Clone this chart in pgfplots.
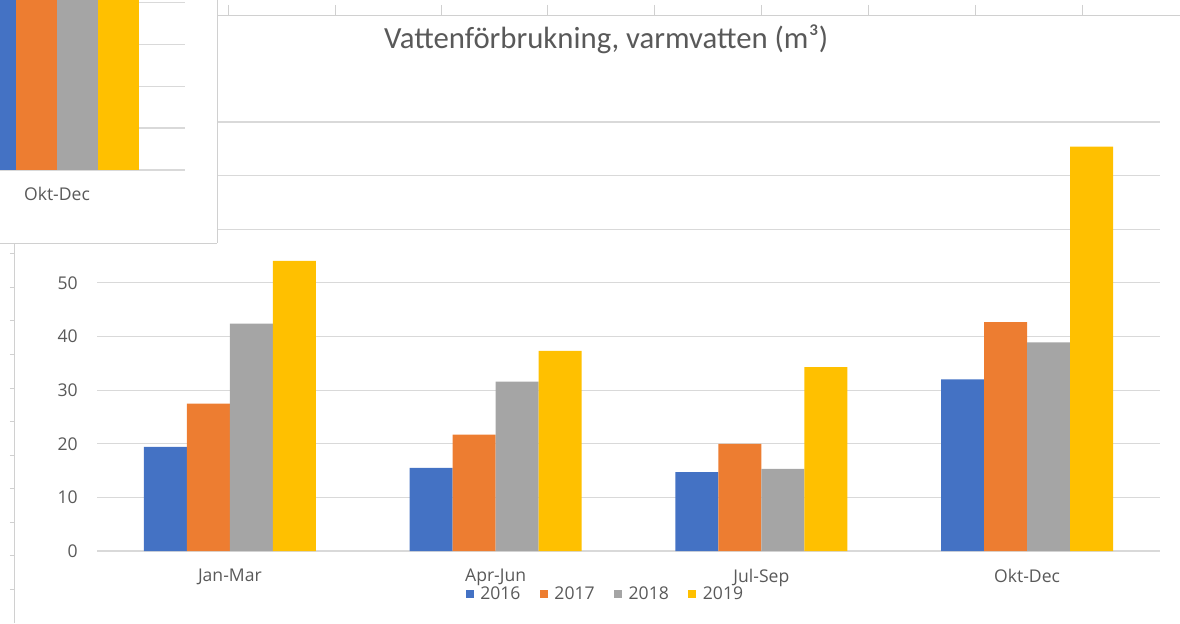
\documentclass[border=0pt]{standalone}
\usepackage{pgfplots}
\pgfplotsset{compat=1.18}
\usepackage{fontspec}
\setmainfont{Open Sans}
\newfontfamily\titlefont{Carlito}
\definecolor{c2016}{HTML}{4472C4}
\definecolor{c2017}{HTML}{ED7D31}
\definecolor{c2018}{HTML}{A5A5A5}
\definecolor{c2019}{HTML}{FFC000}
\definecolor{textgray}{HTML}{595959}
\definecolor{gridgray}{HTML}{D9D9D9}
\definecolor{rulergray}{HTML}{D0D0D0}

% 1 px of the reference = 0.02 cm
\pgfplotsset{
  labelfont/.style={font=\fontsize{10}{12}\selectfont, text=textgray},
}

\begin{document}
\begin{tikzpicture}
\path[use as bounding box] (0,0) rectangle (23.6,12.46);

% top ruler
\begin{axis}[
    at={(4.34cm,12.16cm)}, anchor=north west,
    scale only axis, width=19.26cm, height=1cm,
    xmin=217, xmax=1180, ymin=0, ymax=1,
    axis x line*=top, axis y line=none,
    axis line style={-, draw=rulergray},
    xtick={228,335,441,547,654,761,868,975,1082},
    xticklabels={}, ytick=\empty,
    tick align=outside, major tick length=0.2cm,
    tick style={draw=rulergray},
]
\end{axis}

% left ruler
\begin{axis}[
    at={(0.28cm,0cm)}, anchor=south west,
    scale only axis, width=1cm, height=7.6cm,
    xmin=0, xmax=1, ymin=0, ymax=380,
    axis y line*=left, axis x line=none,
    axis line style={-, draw=rulergray},
    ytick={34,68,101,135,168,202,235,269,303,336,370},
    yticklabels={}, xtick=\empty,
    tick align=outside, major tick length=0.08cm,
    tick style={draw=rulergray},
]
\end{axis}

% main chart
\begin{axis}[
    at={(1.94cm,1.44cm)}, anchor=south west,
    scale only axis, width=21.26cm, height=8.58cm,
    ybar=0pt, bar width=0.86cm,
    xmin=-0.5, xmax=3.5, ymin=0, ymax=80,
    xtick={0,1,2,3},
    xticklabels={Jan-Mar,Apr-Jun,Jul-Sep,Okt-Dec},
    ytick={0,10,...,80},
    ymajorgrids=true,
    grid style={draw=gridgray, line width=0.6pt},
    axis line style={draw=none},
    major tick length=0pt, tick style={draw=none},
    tick label style={labelfont},
    /pgf/number format/assume math mode=true,
    yticklabel style={xshift=-0.26cm},
    xticklabel style={yshift=-0.24cm},
    title={\titlefont\fontsize{17.5}{21}\selectfont Vattenförbrukning, varmvatten (m³)},
    title style={at={(0.479,1)}, anchor=base, yshift=1.26cm, text=textgray},
    legend style={
        at={(0.479,0)}, anchor=center, yshift=-0.86cm,
        draw=none, fill=none, inner sep=0pt,
        legend columns=4, labelfont,
        /tikz/every odd column/.append style={column sep=0.06cm},
        /tikz/every even column/.append style={column sep=0.32cm},
    },
    legend image code/.code={\fill (0cm,-0.08cm) rectangle (0.16cm,0.08cm);},
]
\addplot[fill=c2016, draw=none] coordinates {(0,19.4) (1,15.5) (2,14.7) (3,32.0)};
\addplot[fill=c2017, draw=none] coordinates {(0,27.5) (1,21.7) (2,20.0) (3,42.7)};
\addplot[fill=c2018, draw=none] coordinates {(0,42.4) (1,31.6) (2,15.3) (3,38.9)};
\addplot[fill=c2019, draw=none] coordinates {(0,54.1) (1,37.3) (2,34.3) (3,75.4)};
\legend{2016,2017,2018,2019}
\end{axis}

% window of another chart lying over the top left corner
\begin{axis}[
    at={(0cm,7.6cm)}, anchor=south west,
    scale only axis, width=4.34cm, height=4.86cm,
    xmin=0, xmax=1, ymin=0, ymax=1,
    axis background/.style={fill=white},
    axis x line*=bottom, axis y line*=right,
    axis line style={-, draw=rulergray},
    xtick=\empty, ytick=\empty,
]
\end{axis}

\begin{axis}[
    at={(0cm,9.06cm)}, anchor=south west,
    scale only axis, width=3.7cm, height=3.4cm,
    ybar=0pt, bar width=0.82cm,
    xmin=0, xmax=185, ymin=0, ymax=40.5,
    xtick={57}, xticklabels={Okt-Dec},
    ytick={0,10,...,40}, yticklabels={},
    ymajorgrids=true,
    grid style={draw=gridgray, line width=0.6pt},
    axis line style={draw=none},
    major tick length=0pt, tick style={draw=none},
    tick label style={labelfont},
    xticklabel style={yshift=-0.22cm},
]
\addplot[fill=c2016, draw=none] coordinates {(57,45)};
\addplot[fill=c2017, draw=none] coordinates {(57,45)};
\addplot[fill=c2018, draw=none] coordinates {(57,45)};
\addplot[fill=c2019, draw=none] coordinates {(57,45)};
\end{axis}
\end{tikzpicture}
\end{document}
